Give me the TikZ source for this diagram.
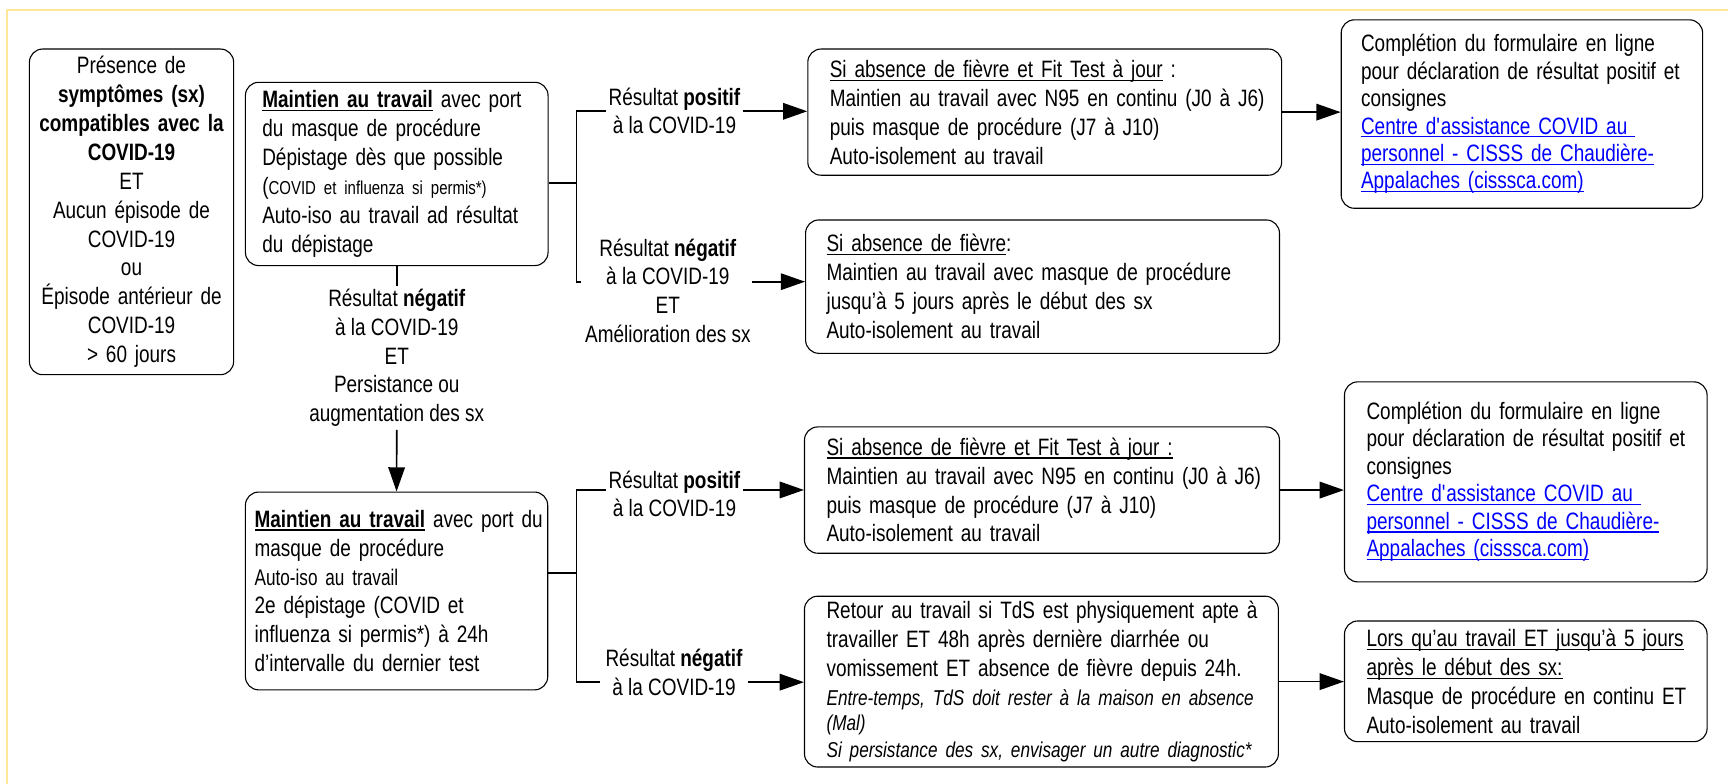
\documentclass[tikz,border=0pt]{standalone}
\usepackage{fontspec}
\setmainfont{Liberation Sans}[FakeStretch=0.80]
\newfontfamily\narrowfont{Liberation Sans}[FakeStretch=0.76]
\newfontfamily\smallfont{Liberation Sans}[FakeStretch=0.80]
\usetikzlibrary{arrows.meta}
\definecolor{framey}{RGB}{255,230,153}
\definecolor{linkblue}{RGB}{0,0,255}
\newlength\ulw
\newcommand\myul[1]{\settowidth\ulw{#1}\rlap{#1}\rule[-3pt]{\ulw}{1.1pt}}
\newcommand\lin[1]{\mbox{#1}}
\begin{document}
\begin{tikzpicture}[x=1pt,y=-1pt,
  box/.style={draw=black, line width=1pt, rounded corners=12pt, inner ysep=0pt,
    font=\fontsize{21.5}{26.2}\selectfont, align=left},
  lbl/.style={inner xsep=2pt, inner ysep=0pt, align=center, font=\fontsize{21.5}{26}\selectfont},
  conn/.style={line width=1.5pt},
  arr/.style={line width=1.5pt, -{Triangle[length=22pt,width=15pt]}},
]
\useasboundingbox (0,0) rectangle (1568,711);
\draw[framey, line width=2pt] (6,711) -- (6,9) -- (1568,9);

% boxes
\node[box, align=center, text width=173.3pt, inner xsep=6pt, minimum height=295.5pt] (A) at (119.35,192.25)
 {Présence de\\\textbf{symptômes (sx)}\\\textbf{compatibles avec la}\\\textbf{COVID-19}\\ET\\Aucun épisode de\\COVID-19\\ou\\Épisode antérieur de\\COVID-19\\> 60 jours};

\node[box, text width=244pt, inner xsep=15.3pt, minimum height=166.3pt] (B) at (360,157.85)
 {\lin{\myul{\textbf{Maintien au travail}} avec port}\\du masque de procédure\\\lin{Dépistage dès que possible}\\\lin{({\smallfont\fontsize{17}{26.2}\selectfont COVID et influenza si permis*)}}\\\lin{Auto-iso au travail ad résultat}\\du dépistage};

\node[box, text width=257.7pt, inner xsep=8.3pt, minimum height=179.5pt] (C) at (359.85,536.25)
 {\lin{\myul{\textbf{Maintien au travail}} avec port du}\\masque de procédure\\{\narrowfont\fontsize{20.5}{26.2}\selectfont Auto-iso au travail}\\\lin{2e dépistage (COVID et}\\\lin{influenza si permis*) à 24h}\\\lin{d’intervalle du dernier test}};

\node[box, text width=390pt, inner xsep=20pt, minimum height=114.5pt] (D) at (948,101.75)
 {\lin{\myul{Si absence de fièvre et Fit Test à jour} :}\\\lin{Maintien au travail avec N95 en continu (J0 à J6)}\\\lin{puis masque de procédure (J7 à J10)}\\Auto-isolement au travail};

\node[box, text width=392pt, inner xsep=19pt, minimum height=121pt] (E) at (946,260.1)
 {\lin{\myul{Si absence de fièvre}:}\\\lin{Maintien au travail avec masque de procédure}\\\lin{jusqu’à 5 jours après le début des sx}\\Auto-isolement au travail};

\node[box, text width=292pt, inner xsep=18pt, minimum height=171pt, font=\fontsize{21.5}{24.9}\selectfont] (F) at (1381,103.5)
 {\lin{Complétion du formulaire en ligne}\\\lin{pour déclaration de résultat positif et}\\consignes\\{\color{linkblue}\lin{\myul{Centre d\textquotesingle assistance COVID au\ }}}\\{\color{linkblue}\lin{\myul{personnel - CISSS de Chaudière-}}}\\{\color{linkblue}\lin{\myul{Appalaches (cisssca.com)}}}};

\node[box, text width=391pt, inner xsep=20pt, minimum height=114.6pt] (G) at (945.5,444.7)
 {\lin{\myul{Si absence de fièvre et Fit Test à jour :}}\\\lin{Maintien au travail avec N95 en continu (J0 à J6)}\\\lin{puis masque de procédure (J7 à J10)}\\Auto-isolement au travail};

\node[box, text width=390pt, inner xsep=20pt, minimum height=155pt] (H) at (945,618.5)
 {\lin{Retour au travail si TdS est physiquement apte à}\\\lin{travailler ET 48h après dernière diarrhée ou}\\\lin{vomissement ET absence de fièvre depuis 24h.}\\{\fontsize{19.5}{23.5}\selectfont\itshape\lin{Entre-temps, TdS doit rester à la maison en absence}}\\[-3pt]{\fontsize{19.5}{23.5}\selectfont\itshape (Mal)}\\[-2pt]{\fontsize{19.5}{23.5}\selectfont\itshape\lin{Si persistance des sx, envisager un autre diagnostic*}}};

\node[box, text width=289pt, inner xsep=20pt, minimum height=181.5pt, font=\fontsize{21.5}{24.9}\selectfont] (I) at (1384.5,437.25)
 {\lin{Complétion du formulaire en ligne}\\\lin{pour déclaration de résultat positif et}\\consignes\\{\color{linkblue}\lin{\myul{Centre d\textquotesingle assistance COVID au\ }}}\\{\color{linkblue}\lin{\myul{personnel - CISSS de Chaudière-}}}\\{\color{linkblue}\lin{\myul{Appalaches (cisssca.com)}}}};

\node[box, text width=289pt, inner xsep=20pt, minimum height=109.5pt] (J) at (1384.5,618.25)
 {\lin{\myul{Lors qu’au travail ET jusqu’à 5 jours}}\\\lin{\myul{après le début des sx:}}\\\lin{Masque de procédure en continu ET}\\Auto-isolement au travail};

% labels
\node[lbl] (L1) at (612,100.75) {Résultat \textbf{positif}\\à la COVID-19};
\node[lbl, inner xsep=1pt] (L2) at (606,263.75) {Résultat \textbf{négatif}\\à la COVID-19\\ET\\Amélioration des sx};
\node[lbl, inner ysep=3pt] (L3) at (360,324.75) {Résultat \textbf{négatif}\\à la COVID-19\\ET\\Persistance ou\\augmentation des sx};
\node[lbl] (L4) at (612,448.3) {Résultat \textbf{positif}\\à la COVID-19};
\node[lbl, inner xsep=5pt] (L5) at (611.6,610) {Résultat \textbf{négatif}\\à la COVID-19};

% bracket points
\coordinate (br1t) at (523,101);
\coordinate (br1b) at (523,255.6);
\coordinate (br2t) at (523,444.6);
\coordinate (br2b) at (523,619);

% connectors
\draw[conn] ([yshift=-8.15pt]B.east) -- ++(25.7,0);
\draw[conn] (L1.west |- br1t) -- (br1t) -- (br1b) -- ++(4,0);
\draw[arr] (L1.east |- br1t) -- (D.west |- br1t);
\draw[arr] (L2.east |- br1b) -- (E.west |- br1b);
\draw[conn] (B.south) -- (L3.north);
\draw[arr] (L3.south) -- (C.north);
\draw[conn] ([yshift=16.25pt]C.east) -- ++(26,0);
\draw[conn] (L4.west |- br2t) -- (br2t) -- (br2b) -- (L5.west |- br2b);
\draw[arr] (L4.east |- br2t) -- (G.west |- br2t);
\draw[arr] (L5.east |- br2b) -- (H.west |- br2b);
\draw[arr] (D.east) -- (D.east -| F.west);
\draw[arr] (G.east) -- (G.east -| I.west);
\draw[arr] (H.east) -- (H.east -| J.west);
\end{tikzpicture}
\end{document}
